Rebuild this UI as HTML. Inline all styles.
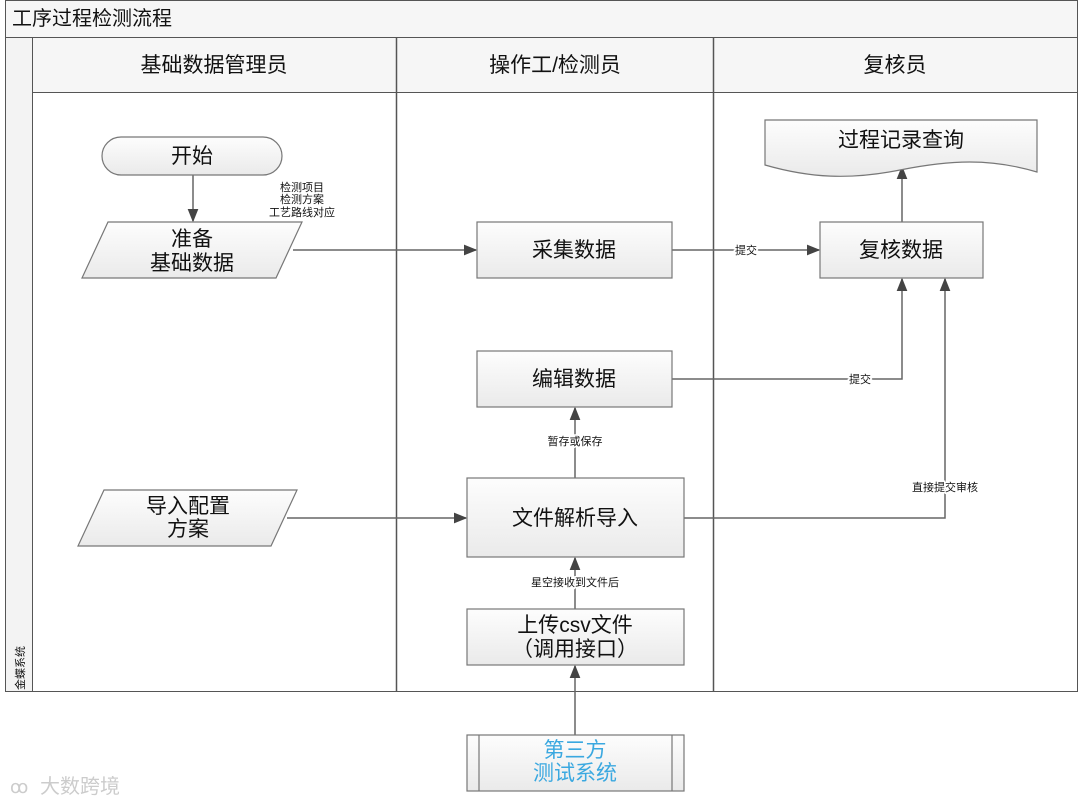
<!DOCTYPE html>
<html><head><meta charset="utf-8"><style>
html,body{margin:0;padding:0;background:#fff;}
svg{display:block;}
text{font-family:"Liberation Sans","Noto Sans CJK SC",sans-serif;fill:#111;}
</style></head><body>
<svg width="1080" height="806" viewBox="0 0 1080 806" xmlns="http://www.w3.org/2000/svg">
<defs>
<linearGradient id="g" x1="0" y1="0" x2="0" y2="1"><stop offset="0" stop-color="#fdfdfd"/><stop offset="1" stop-color="#eaeaea"/></linearGradient>
<marker id="a" viewBox="0 0 10 10" refX="9" refY="5" markerWidth="9" markerHeight="9" orient="auto"><path d="M0,1 L10,5 L0,9 z" fill="#444"/></marker>
</defs>
<rect x="5.5" y="0.5" width="1072" height="691" fill="#fff" stroke="#555"/>
<rect x="5.5" y="0.5" width="1072" height="37" fill="#f6f6f6" stroke="#555"/>
<text x="12" y="25" font-size="20">工序过程检测流程</text>
<rect x="5.5" y="37.5" width="27" height="654" fill="#f3f3f3" stroke="#555"/>
<rect x="32.5" y="37.5" width="1045" height="55" fill="#f6f6f6" stroke="#555"/>
<line x1="396.5" y1="37" x2="396.5" y2="691" stroke="#555" stroke-width="1.5"/>
<line x1="713.5" y1="37" x2="713.5" y2="691" stroke="#555" stroke-width="1.5"/>
<text x="214" y="72" font-size="21" text-anchor="middle">基础数据管理员</text>
<text x="555" y="72" font-size="21" text-anchor="middle">操作工/检测员</text>
<text x="895" y="72" font-size="21" text-anchor="middle">复核员</text>
<text transform="translate(24,690) rotate(-90)" font-size="11">金蝶系统</text>

<g stroke="#666" stroke-width="1.5" fill="none">
<line x1="193" y1="175" x2="193" y2="221" marker-end="url(#a)"/>
<line x1="293" y1="250" x2="476" y2="250" marker-end="url(#a)"/>
<line x1="672" y1="250" x2="819" y2="250" marker-end="url(#a)"/>
<line x1="902" y1="222" x2="902" y2="167" marker-end="url(#a)"/>
<polyline points="672,379 902,379 902,279" marker-end="url(#a)"/>
<polyline points="684,518 945,518 945,279" marker-end="url(#a)"/>
<line x1="575" y1="478" x2="575" y2="408" marker-end="url(#a)"/>
<line x1="575" y1="609" x2="575" y2="558" marker-end="url(#a)"/>
<line x1="575" y1="735" x2="575" y2="666" marker-end="url(#a)"/>
<line x1="287" y1="518" x2="466" y2="518" marker-end="url(#a)"/>
</g>
<g font-size="11" text-anchor="middle">
<text x="302" y="191">检测项目</text>
<text x="302" y="203">检测方案</text>
<text x="302" y="216">工艺路线对应</text>
<text x="746" y="254" style="paint-order:stroke" stroke="#fff" stroke-width="3">提交</text>
<text x="860" y="383" style="paint-order:stroke" stroke="#fff" stroke-width="3">提交</text>
<text x="945" y="491" style="paint-order:stroke" stroke="#fff" stroke-width="3">直接提交审核</text>
<text x="575" y="445" style="paint-order:stroke" stroke="#fff" stroke-width="3">暂存或保存</text>
<text x="575" y="586" style="paint-order:stroke" stroke="#fff" stroke-width="3">星空接收到文件后</text>
</g>

<g stroke="#777" stroke-width="1.2" fill="url(#g)">
<rect x="102" y="137" width="180" height="38" rx="19"/>
<polygon points="108,222 302,222 276,278 82,278"/>
<rect x="477" y="222" width="195" height="56"/>
<rect x="820" y="222" width="163" height="56"/>
<path d="M765,120 L1037,120 L1037,172 C990,158 950,160 900,170 C850,180 810,178 765,165 Z"/>
<rect x="477" y="351" width="195" height="56"/>
<polygon points="104,490 297,490 271,546 78,546"/>
<rect x="467" y="478" width="217" height="79"/>
<rect x="467" y="609" width="217" height="56"/>
<rect x="467" y="735" width="217" height="56"/>
<line x1="479" y1="735" x2="479" y2="791"/>
<line x1="672" y1="735" x2="672" y2="791"/>
</g>
<g font-size="21" text-anchor="middle">
<text x="192" y="163">开始</text>
<text x="192" y="246">准备</text>
<text x="192" y="270">基础数据</text>
<text x="574" y="257">采集数据</text>
<text x="901" y="257">复核数据</text>
<text x="901" y="147">过程记录查询</text>
<text x="574" y="386">编辑数据</text>
<text x="188" y="513">导入配置</text>
<text x="188" y="536">方案</text>
<text x="575" y="525">文件解析导入</text>
<text x="575" y="632">上传csv文件</text>
<text x="575" y="656">（调用接口）</text>
<text x="575" y="757" style="fill:#3aa8e0">第三方</text>
<text x="575" y="780" style="fill:#3aa8e0">测试系统</text>
</g>
<text x="40" y="793" font-size="20" style="fill:#ccc">大数跨境</text>
<text x="10" y="793" font-size="18" style="fill:#ccc">ꝏ</text>
</svg>
</body></html>
